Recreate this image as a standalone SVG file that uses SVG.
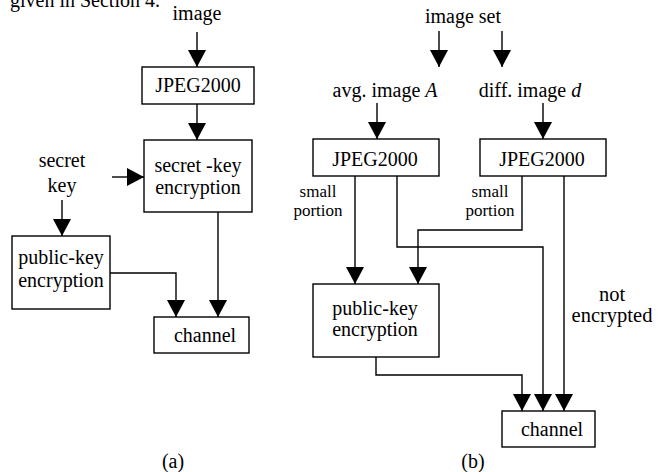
<svg xmlns="http://www.w3.org/2000/svg" width="658" height="472" viewBox="0 0 658 472">
<defs>
<marker id="ah" markerUnits="userSpaceOnUse" markerWidth="18" markerHeight="18" refX="17" refY="9" orient="auto">
<path d="M0,0 L17,9 L0,18 Z" fill="#000"/>
</marker>
<style>
text{fill:#000;text-anchor:middle;font-size:20px}
.sm{font-size:17px}
.big{font-size:20.5px}
rect{fill:#fff;stroke:#000;stroke-width:1.4}
.c path{fill:none;stroke:#000;stroke-width:1.4;marker-end:url(#ah)}
</style>
</defs>
<rect x="0" y="0" width="658" height="472" style="stroke:none;fill:#fff"/>
<g font-family="'Liberation Serif', 'Times New Roman', 'DejaVu Serif', serif">
<text x="10" y="7" style="text-anchor:start">given in Section 4.</text>

<g id="a-image"><text x="197" y="20">image</text></g>
<g id="a-jpeg"><rect x="142" y="67" width="112" height="37"/><text x="198" y="92">JPEG2000</text></g>
<g id="a-secretenc"><rect x="144" y="140" width="108" height="72"/><text x="198" y="172">secret -key</text><text x="198" y="194">encryption</text></g>
<g id="a-secretkey"><text x="62" y="167">secret</text><text x="62" y="192">key</text></g>
<g id="a-pubenc"><rect x="12" y="236" width="98" height="73"/><text x="61" y="264">public-key</text><text x="61" y="287">encryption</text></g>
<g id="a-channel"><rect x="154" y="317" width="95" height="36"/><text x="205" y="342">channel</text></g>
<g id="a-caption"><text x="173" y="468">(a)</text></g>

<g id="b-imageset"><text x="463" y="23">image set</text></g>
<g id="b-avg"><text x="385" y="97">avg. image <tspan font-style="italic">A</tspan></text></g>
<g id="b-diff"><text x="530" y="97">diff. image <tspan font-style="italic">d</tspan></text></g>
<g id="b-jpeg1"><rect x="313" y="139" width="126" height="37"/><text x="375" y="166">JPEG2000</text></g>
<g id="b-jpeg2"><rect x="480" y="139" width="126" height="37"/><text x="542" y="166">JPEG2000</text></g>
<g id="b-small1"><text class="sm" x="318" y="197">small</text><text class="sm" x="318" y="216">portion</text></g>
<g id="b-small2"><text class="sm" x="490" y="197">small</text><text class="sm" x="490" y="216">portion</text></g>
<g id="b-pubenc"><rect x="313" y="284" width="126" height="73"/><text x="375" y="315">public-key</text><text x="375" y="336">encryption</text></g>
<g id="b-notenc"><text class="big" x="612" y="301">not</text><text class="big" x="612" y="322">encrypted</text></g>
<g id="b-channel"><rect x="502" y="411" width="93" height="36"/><text x="552" y="436">channel</text></g>
<g id="b-caption"><text x="473" y="468">(b)</text></g>
</g>

<g id="connectors" class="c">
<path d="M197,32 V67"/>
<path d="M197,104 V140"/>
<path d="M112,177 H144"/>
<path d="M62,200 V236"/>
<path d="M110,273 H176 V317"/>
<path d="M218,212 V317"/>
<path d="M439,31 V67"/>
<path d="M502,31 V67"/>
<path d="M377,103 V139"/>
<path d="M543,103 V139"/>
<path d="M355,176 V284"/>
<path d="M397,176 V247 H543 V411"/>
<path d="M522,176 V230 H418 V284"/>
<path d="M564,176 V411"/>
<path d="M376,357 V375 H522 V411"/>
</g>
</svg>
